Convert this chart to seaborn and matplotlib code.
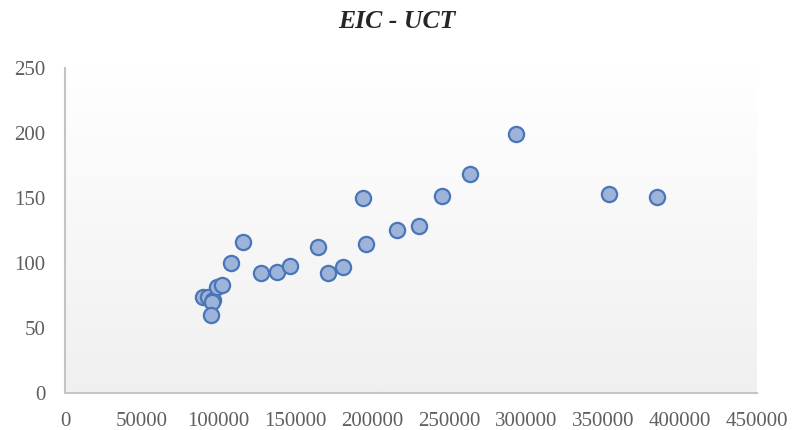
import numpy as np
import pandas as pd
import matplotlib
matplotlib.use("Agg")
import matplotlib.pyplot as plt
import seaborn as sns
from matplotlib.colors import LinearSegmentedColormap

# EIC against UCT
eic = [89900, 93200, 96000, 95400, 94700, 98600, 101900, 107800, 116000,
       127500, 137700, 146300, 164300, 171200, 180600, 193600, 195700,
       216100, 230400, 245400, 263400, 293300, 354000, 384800]
uct = [73.9, 73.4, 71.3, 70.0, 59.8, 81.1, 82.9, 100.1, 116.3,
       92.4, 93.1, 97.5, 112.2, 91.9, 96.5, 149.7, 114.7,
       125.3, 128.6, 151.5, 168.6, 199.3, 153.0, 150.5]

x_ticks = [0, 50000, 100000, 150000, 200000, 250000, 300000, 350000, 400000, 450000]
y_ticks = [0, 50, 100, 150, 200, 250]

df = pd.DataFrame({"EIC": eic, "UCT": uct})

sns.set_theme(style="white")
plt.rcParams["font.family"] = ["Liberation Serif", "DejaVu Serif"]

fig = plt.figure(figsize=(7.93, 4.30), dpi=100)
ax = fig.add_axes([65 / 793, 1 - 392.5 / 430, 692 / 793, 324.2 / 430])

# soft vertical gradient behind the points
grad = np.linspace(0, 1, 256).reshape(-1, 1)
cmap = LinearSegmentedColormap.from_list("bg", ["#ffffff", "#f0f0f0"])
ax.imshow(grad, aspect="auto", cmap=cmap, extent=(0, 1, 0, 1),
          transform=ax.transAxes, zorder=0, origin="upper")

sns.scatterplot(data=df, x="EIC", y="UCT", ax=ax, s=120,
                color="#9db3da", edgecolor="#4a76b8", linewidth=1.6, zorder=3)

ax.set_xlim(0, 450000)
ax.set_ylim(0, 250)
ax.set_xticks(x_ticks)
ax.set_xticklabels([str(v) for v in x_ticks])
ax.set_yticks(y_ticks)
ax.set_yticklabels([str(v) for v in y_ticks])
ax.tick_params(axis="both", length=0, labelsize=15, colors="#5f5f5f")
ax.tick_params(axis="x", pad=14)
ax.tick_params(axis="y", pad=14)
ax.set_xlabel("")
ax.set_ylabel("")

for side in ["top", "right"]:
    ax.spines[side].set_visible(False)
for side in ["left", "bottom"]:
    ax.spines[side].set_color("#c4c4c4")
    ax.spines[side].set_linewidth(1.5)

fig.text(0.5, 1 - 22 / 430, "EIC - UCT", ha="center", va="center",
         fontsize=18.5, fontweight="bold", fontstyle="italic", color="#262626")

fig.savefig("out.png", dpi=100)
